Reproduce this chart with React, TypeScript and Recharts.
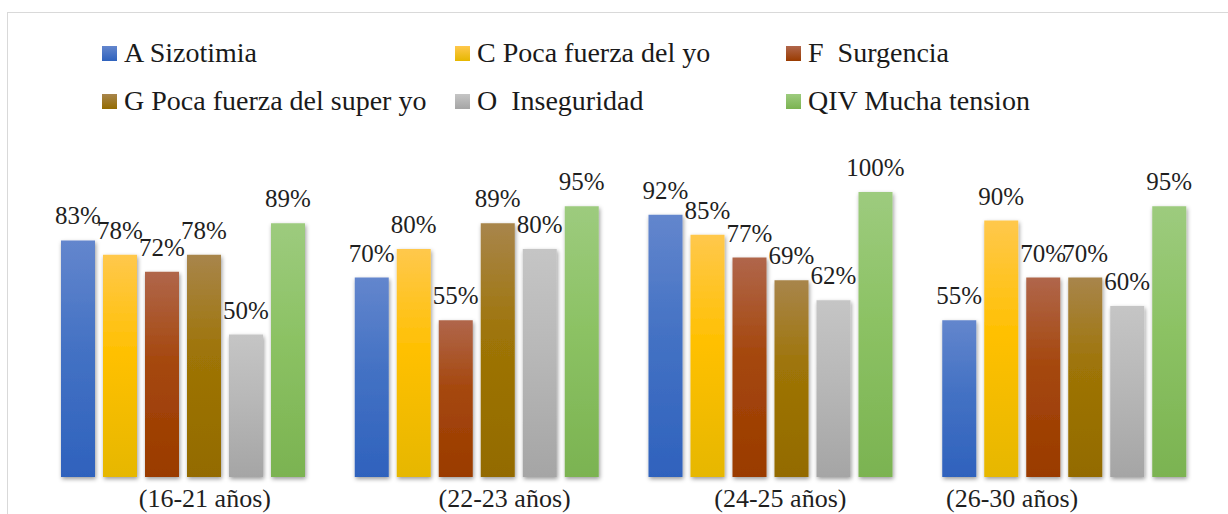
import React from "react"
import { BarChart, Bar, XAxis, YAxis, LabelList } from "recharts"

// grupos de edad y porcentajes por factor
const ageGroups = ["(16-21 años)", "(22-23 años)", "(24-25 años)", "(26-30 años)"]
const sizotimia = [83, 70, 92, 55]
const pocaFuerzaYo = [78, 80, 85, 90]
const surgencia = [72, 55, 77, 70]
const pocaFuerzaSuperYo = [78, 89, 69, 70]
const inseguridad = [50, 80, 62, 60]
const muchaTension = [89, 95, 100, 95]

const seriesNames = [
    "A Sizotimia",
    "C Poca fuerza del yo",
    "F  Surgencia",
    "G Poca fuerza del super yo",
    "O  Inseguridad",
    "QIV Mucha tension",
]
const seriesValues = [sizotimia, pocaFuerzaYo, surgencia, pocaFuerzaSuperYo, inseguridad, muchaTension]

// top, middle, bottom of each Excel-like gradient
const gradients = [
    ["#6386cd", "#4472c4", "#2f62bd"],
    ["#ffc84c", "#ffc000", "#e6b700"],
    ["#b0664b", "#a5470c", "#9a3b00"],
    ["#a8854b", "#9e7407", "#936b00"],
    ["#c5c5c5", "#b8b8b8", "#a5a5a5"],
    ["#9dcb7e", "#8cc264", "#7bb351"],
]

const data = ageGroups.map((group, i) => {
    const row: Record<string, any> = { group }
    seriesValues.forEach((vals, s) => { row["s" + s] = vals[i] })
    return row
})

const FONT = "'Liberation Serif', Tinos, 'Times New Roman', Times, 'DejaVu Serif', serif"
const tickShift = [22, 28, 10, -52]

function AgeTick({ x, y, payload, index }: any) {
    return (
        <text x={x + (tickShift[index] || 0)} y={y} dy={22} textAnchor="middle"
            style={{ fontFamily: FONT }} fontSize={26} fill="#1f1f1f">
            {payload.value}
        </text>
    )
}

const legendCols = [102, 455, 786]
const legendRows = [38, 86]

export default function App() {
    return (
        <div style={{ position: "absolute", left: 0, top: 0, width: 1228, height: 514, overflow: "hidden", background: "#fff", fontFamily: FONT }}>
            <div style={{ position: "absolute", left: 7, top: 12, width: 1260, height: 560, border: "1.5px solid #d9d9d9" }} />
            {seriesNames.map((name, i) => (
                <div key={name} style={{
                    position: "absolute", left: legendCols[i % 3], top: legendRows[Math.floor(i / 3)],
                    height: 30, display: "flex", alignItems: "center", whiteSpace: "pre",
                }}>
                    <span style={{
                        width: 15, height: 15, marginRight: 7, display: "inline-block",
                        background: `linear-gradient(${gradients[i][0]}, ${gradients[i][2]})`,
                    }} />
                    <span style={{ fontSize: 28, lineHeight: "30px", color: "#1a1a1a", fontFamily: FONT }}>{name}</span>
                </div>
            ))}
            <div style={{ position: "absolute", left: 0, top: 0 }}>
                <BarChart width={1228} height={514} data={data}
                    margin={{ top: 192, right: 17, bottom: 0, left: 36 }}
                    barSize={34} barGap={8} style={{ fontFamily: FONT }}>
                    <defs>
                        {gradients.map((g, i) => (
                            <linearGradient key={i} id={"grad" + i} x1="0" y1="0" x2="0" y2="1">
                                <stop offset="0%" stopColor={g[0]} />
                                <stop offset="45%" stopColor={g[1]} />
                                <stop offset="100%" stopColor={g[2]} />
                            </linearGradient>
                        ))}
                        <filter id="barShadow" x="-30%" y="-10%" width="160%" height="120%">
                            <feDropShadow dx="1" dy="2" stdDeviation="2.2" floodColor="#000" floodOpacity="0.4" />
                        </filter>
                    </defs>
                    <XAxis dataKey="group" axisLine={false} tickLine={false} height={37}
                        interval={0} tick={<AgeTick />} />
                    <YAxis hide domain={[0, 100]} />
                    {seriesNames.map((name, i) => (
                        <Bar key={name} dataKey={"s" + i} name={name} fill={`url(#grad${i})`}
                            filter="url(#barShadow)" isAnimationActive={false}>
                            <LabelList dataKey={"s" + i} position="top" offset={16}
                                formatter={(v: any) => v + "%"}
                                fill="#1f1f1f" fontSize={25} style={{ fontFamily: FONT }} />
                        </Bar>
                    ))}
                </BarChart>
            </div>
        </div>
    )
}
